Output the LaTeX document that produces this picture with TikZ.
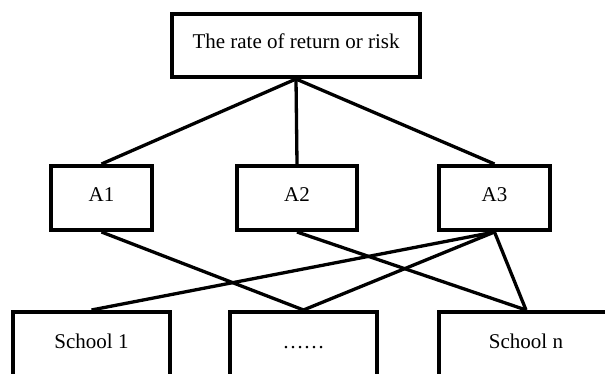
\documentclass[tikz,border=0pt]{standalone}
\usepackage{fontspec}
\setmainfont{Liberation Serif}
\begin{document}
\begin{tikzpicture}[x=1pt,y=1pt,
  box/.style={draw=black,line width=3.8pt,inner sep=0pt,font=\fontsize{21}{25}\selectfont,text height=0.68em,text depth=0pt},
  link/.style={line width=3.3pt}]
\useasboundingbox (0,0) rectangle (605,374);
\node[box,minimum width=248.2,minimum height=63.2] (top) at (296,328.5) {The rate of return or risk};
\node[box,minimum width=101.2,minimum height=64.2] (a1) at (101.5,176) {A1};
\node[box,minimum width=120.2,minimum height=64.2] (a2) at (297,176) {A2};
\node[box,minimum width=111.2,minimum height=64.2] (a3) at (494.5,176) {A3};
\node[box,minimum width=157.2,minimum height=66.2] (s1) at (91.5,29) {School 1};
\node[box,minimum width=147.2,minimum height=66.2] (sd) at (303.5,29) {……};
\node[box,minimum width=174.2,minimum height=66.2] (sn) at (526,29) {School n};
\draw[link] (top.south) -- (a1.north);
\draw[link] (top.south) -- (a2.north);
\draw[link] (top.south) -- (a3.north);
\draw[link] (a1.south) -- (sd.north);
\draw[link] (a2.south) -- (sn.north);
\draw[link] (a3.south) -- (s1.north);
\draw[link] (a3.south) -- (sd.north);
\draw[link] (a3.south) -- (sn.north);
\end{tikzpicture}
\end{document}
